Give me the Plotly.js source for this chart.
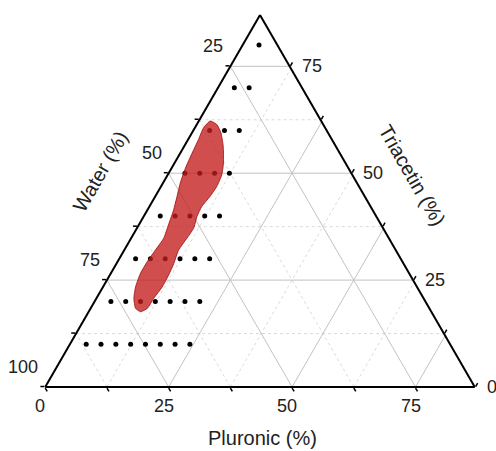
<!DOCTYPE html>
<html><head><meta charset="utf-8">
<script src="https://cdn.plot.ly/plotly-3.0.1.min.js"></script>
<style>html,body{margin:0;padding:0;background:#fff}</style>
</head><body>
<div id="chart" style="width:496px;height:451px"></div>
<script>
// ---- data (percent) ----
const WATER_MIN = 13;               // lower bound of the Water axis (zoomed ternary)
const SUM = 100;

// screening grid points: Triacetin (%) and Pluronic (%)
const dotTriacetin = [10,10,10,10,10,10,10,10,
                      20,20,20,20,20,20,20,
                      30,30,30,30,30,30,
                      40,40,40,40,40,
                      50,50,50,50,
                      60,60,60,
                      70,70,
                      80];
const dotPluronic  = [3.3,6.3,9.3,12.3,15.3,18.3,21.3,24.3,
                      3.3,6.3,9.3,12.3,15.3,18.3,21.3,
                      3.3,6.3,9.3,12.3,15.3,18.3,
                      3.3,6.3,9.3,12.3,15.3,
                      3.3,6.3,9.3,12.3,
                      3.3,6.3,9.3,
                      3.3,6.3,
                      3.3];

// outline of the red (single-phase) region
const regionTriacetin = [62.2,61.4,59.4,56.3,52.4,49.6,46.9,44.6,42.2,39.9,37.1,34.8,32.0,28.9,26.2,23.4,20.7,18.4,17.6,
                         18.4,20.7,23.4,26.6,29.3,32.0,34.8,37.9,41.4,44.6,47.7,51.2,54.7,57.9,60.6,62.2];
const regionPluronic  = [2.3,4.05,5.9,7.9,9.9,10.95,11.3,11.1,10.6,10.8,11.5,11.3,11.0,11.6,11.9,12.0,11.6,11.5,10.5,
                         9.1,7.6,6.6,6.0,6.0,6.3,6.6,6.0,5.3,4.4,3.5,2.8,2.4,2.1,1.75,2.3];

// tick labels
const waterTicks = [25, 50, 75, 100];
const pluronicTicks = [0, 25, 50, 75];
const triacetinTicks = [0, 25, 50, 75];
const minorStep = [12.5, 37.5, 62.5, 87.5];
const majorGrid = [25, 50, 75];

const FONT = '"Liberation Sans", Arial, sans-serif';

// ---- helpers ----
const waterOf = (t, p) => SUM - t - p;
const TOP = SUM - WATER_MIN; // max value for Triacetin and Pluronic

function gridLines(values) {
  const a = [], b = [], c = [];
  const push = (pa, pb, pc) => { a.push(pa); b.push(pb); c.push(pc); };
  values.forEach(v => {
    if (v < TOP) { push(v, SUM - v, 0); push(v, WATER_MIN, TOP - v); push(null, null, null); }
    if (v > WATER_MIN) { push(0, v, SUM - v); push(SUM - v, v, 0); push(null, null, null); }
    if (v < TOP) { push(0, SUM - v, v); push(TOP - v, WATER_MIN, v); push(null, null, null); }
  });
  return {a, b, c};
}

const gMinor = gridLines(minorStep);
const gMajor = gridLines(majorGrid);

const traces = [
  { type: 'scatterternary', mode: 'lines', a: gMinor.a, b: gMinor.b, c: gMinor.c,
    line: {color: '#dadada', width: 1, dash: 'dot'}, hoverinfo: 'skip', connectgaps: false },
  { type: 'scatterternary', mode: 'lines', a: gMajor.a, b: gMajor.b, c: gMajor.c,
    line: {color: '#c2c2c2', width: 1}, hoverinfo: 'skip', connectgaps: false },
  { type: 'scatterternary', mode: 'markers', a: dotTriacetin,
    b: dotTriacetin.map((t, i) => waterOf(t, dotPluronic[i])), c: dotPluronic,
    marker: {color: '#000', size: 5} },
  { type: 'scatterternary', mode: 'lines', a: regionTriacetin,
    b: regionTriacetin.map((t, i) => waterOf(t, regionPluronic[i])), c: regionPluronic,
    fill: 'toself', fillcolor: 'rgba(196,28,28,0.78)',
    line: {color: 'rgba(160,20,20,0.85)', width: 1, shape: 'spline', smoothing: 0.5} }
];

// axis tick positions (Plotly a = Triacetin, b = Water, c = Pluronic)
const inRange = v => v >= 0 && v <= TOP;
const aVals = waterTicks.map(w => SUM - w).concat(minorStep.map(w => SUM - w)).filter(inRange);
const bVals = pluronicTicks.map(p => SUM - p).concat(minorStep.filter(inRange).map(p => SUM - p));
const cVals = triacetinTicks.map(t => TOP - t).concat(minorStep.filter(inRange).map(t => TOP - t));

const axisCommon = {
  showgrid: false, linecolor: '#000', linewidth: 2,
  ticks: 'outside', ticklen: 4, tickwidth: 1.5, tickcolor: '#000',
  tickmode: 'array', showticklabels: false,
  title: {text: ''}
};

const L = 44, R = 20, T = 15, B = 64, W = 496, H = 451;
const pw = W - L - R, ph = H - T - B;
const px = x => (x - L) / pw, py = y => 1 - (y - T) / ph;

// triangle geometry (same rule Plotly uses to fit the ternary into its domain)
const triW = Math.min(pw, ph * 2 / Math.sqrt(3));
const triH = triW * Math.sqrt(3) / 2;
const tx0 = L + (pw - triW) / 2, ty0 = T + (ph - triH) / 2;
function toPixel(tri, plu) {           // Triacetin, Pluronic -> figure pixels
  const aN = tri / TOP, cN = plu / TOP;
  return [tx0 + triW * (cN + aN / 2), ty0 + triH * (1 - aN)];
}

const tickFont = {family: FONT, size: 18, color: '#222'};
const ann = [];
waterTicks.forEach(w => {                     // left edge: Pluronic = 0
  const [X, Y] = toPixel(SUM - w, 0);
  ann.push({text: String(w), xref: 'paper', yref: 'paper', x: px(X - 5), y: py(Y - 20),
            xanchor: 'right', yanchor: 'middle', showarrow: false, font: tickFont});
});
pluronicTicks.forEach(p => {                  // bottom edge: Triacetin = 0
  const [X, Y] = toPixel(0, p);
  ann.push({text: String(p), xref: 'paper', yref: 'paper', x: px(X - 5), y: py(Y + 19),
            xanchor: 'center', yanchor: 'middle', showarrow: false, font: tickFont});
});
triacetinTicks.forEach(t => {                 // right edge: Water = minimum
  const [X, Y] = toPixel(t, TOP - t);
  ann.push({text: String(t), xref: 'paper', yref: 'paper', x: px(X + 10), y: py(Y),
            xanchor: 'left', yanchor: 'middle', showarrow: false, font: tickFont});
});

const titleFont = {family: FONT, size: 20, color: '#222'};
ann.push({text: 'Pluronic (%)', xref: 'paper', yref: 'paper', x: px(262.5), y: py(438),
          xanchor: 'center', yanchor: 'middle', showarrow: false, font: titleFont});
ann.push({text: 'Water (%)', xref: 'paper', yref: 'paper', x: px(100), y: py(172), textangle: -60,
          xanchor: 'center', yanchor: 'middle', showarrow: false, font: titleFont});
ann.push({text: 'Triacetin (%)', xref: 'paper', yref: 'paper', x: px(412), y: py(175), textangle: 60,
          xanchor: 'center', yanchor: 'middle', showarrow: false, font: titleFont});

const layout = {
  width: W, height: H,
  margin: {l: L, r: R, t: T, b: B},
  paper_bgcolor: '#fff',
  showlegend: false,
  font: {family: FONT, color: '#222'},
  ternary: {
    sum: SUM,
    bgcolor: '#fff',
    domain: {x: [0, 1], y: [0, 1]},
    aaxis: Object.assign({}, axisCommon, {min: 0, tickvals: aVals}),
    baxis: Object.assign({}, axisCommon, {min: WATER_MIN, tickvals: bVals}),
    caxis: Object.assign({}, axisCommon, {min: 0, tickvals: cVals})
  },
  annotations: ann
};

Plotly.newPlot('chart', traces, layout, {displayModeBar: false, staticPlot: true});
</script>
</body></html>
